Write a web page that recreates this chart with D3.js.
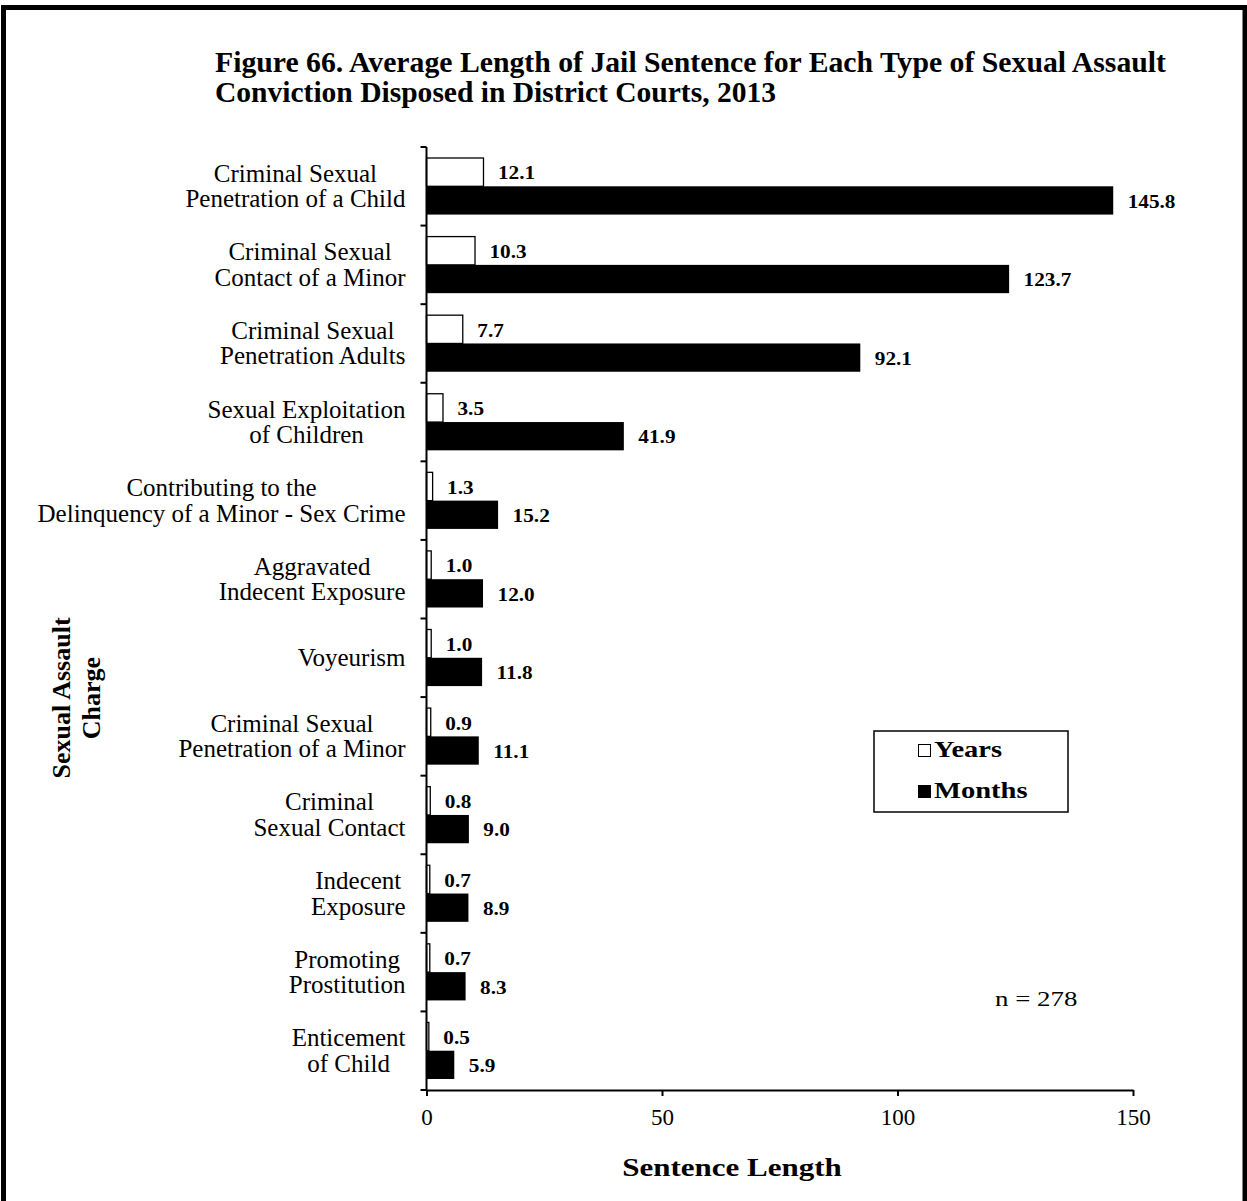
<!DOCTYPE html>
<html>
<head>
<meta charset="utf-8">
<script src="https://cdn.jsdelivr.net/npm/d3@7"></script>
<style>
  body { margin: 0; background: #fff; }
  svg text { font-family: "Liberation Serif", "Times New Roman", serif; fill: #000; }
</style>
</head>
<body>
<svg id="chart" width="1247" height="1201"></svg>
<script>
const categories = [
  ["Criminal Sexual", "Penetration of a Child"],
  ["Criminal Sexual", "Contact of a Minor"],
  ["Criminal Sexual", "Penetration Adults"],
  ["Sexual Exploitation", "of Children"],
  ["Contributing to the", "Delinquency of a Minor - Sex Crime"],
  ["Aggravated", "Indecent Exposure"],
  ["Voyeurism"],
  ["Criminal Sexual", "Penetration of a Minor"],
  ["Criminal", "Sexual Contact"],
  ["Indecent", "Exposure"],
  ["Promoting", "Prostitution"],
  ["Enticement", "of Child"]
];
const years  = [12.1, 10.3, 7.7, 3.5, 1.3, 1.0, 1.0, 0.9, 0.8, 0.7, 0.7, 0.5];
const months = [145.8, 123.7, 92.1, 41.9, 15.2, 12.0, 11.8, 11.1, 9.0, 8.9, 8.3, 5.9];
const seriesNames = ["Years", "Months"];
const xTicks = [0, 50, 100, 150];
const titleLines = [
  "Figure 66.  Average Length of Jail Sentence for Each Type of Sexual Assault",
  "Conviction Disposed in District Courts, 2013"
];

const svg = d3.select("#chart");

// stretch a text horizontally by a factor (keeps it as real text)
function stretch(sel, f) {
  sel.each(function () {
    const w = this.getComputedTextLength();
    d3.select(this).attr("textLength", w * f).attr("lengthAdjust", "spacingAndGlyphs");
  });
  return sel;
}

// outer frame
svg.append("rect")
  .attr("x", 3.5).attr("y", 7.5).attr("width", 1241.5).attr("height", 1210)
  .attr("fill", "none").attr("stroke", "#000").attr("stroke-width", 5);

// title
const titleW = [951, 561];
svg.selectAll("text.title").data(titleLines).enter().append("text")
  .attr("class", "title")
  .attr("x", 215).attr("y", (d, i) => 72 + i * 30)
  .attr("font-size", "30px").attr("font-weight", "bold")
  .attr("textLength", (d, i) => titleW[i]).attr("lengthAdjust", "spacingAndGlyphs")
  .text(d => d);

const x = d3.scaleLinear().domain([0, 150]).range([426.5, 1133]);
const idx = d3.range(categories.length);
const y = d3.scaleBand().domain(idx).range([147, 1090]).paddingInner(0.28).paddingOuter(0.14);
const ySub = d3.scaleBand().domain(seriesNames).range([0, y.bandwidth()]);

const rows = idx.map(i => ({ i, Years: years[i], Months: months[i] }));

// bars
const g = svg.append("g");
const grp = g.selectAll("g.row").data(rows).enter().append("g")
  .attr("transform", d => `translate(0,${y(d.i)})`);

grp.append("rect")
  .attr("x", x(0)).attr("y", ySub("Years"))
  .attr("width", d => x(d.Years) - x(0)).attr("height", ySub.bandwidth())
  .attr("fill", "#fff").attr("stroke", "#000").attr("stroke-width", 1.3);
grp.append("rect")
  .attr("x", x(0)).attr("y", ySub("Months"))
  .attr("width", d => x(d.Months) - x(0)).attr("height", ySub.bandwidth())
  .attr("fill", "#000");

stretch(grp.append("text")
  .attr("x", d => x(d.Years) + 14.5)
  .attr("y", ySub("Years") + ySub.bandwidth() / 2 + 1)
  .attr("dy", "0.35em")
  .attr("font-size", "18px").attr("font-weight", "bold")
  .text(d => d.Years.toFixed(1)), 1.18);
stretch(grp.append("text")
  .attr("x", d => x(d.Months) + 14.5)
  .attr("y", ySub("Months") + ySub.bandwidth() / 2 + 1)
  .attr("dy", "0.35em")
  .attr("font-size", "18px").attr("font-weight", "bold")
  .text(d => d.Months.toFixed(1)), 1.18);

// y axis line and ticks between categories
const step = y.step();
const yTop = 147, yBot = 1090;
svg.append("line").attr("x1", x(0)).attr("x2", x(0)).attr("y1", yTop).attr("y2", yBot)
  .attr("stroke", "#000").attr("stroke-width", 2);
svg.selectAll("line.ytick").data(d3.range(categories.length + 1)).enter().append("line")
  .attr("x1", x(0) - 6).attr("x2", x(0))
  .attr("y1", d => yTop + d * step).attr("y2", d => yTop + d * step)
  .attr("stroke", "#000").attr("stroke-width", 2);

// x axis
const xAxis = d3.axisBottom(x).tickValues(xTicks).tickSize(6).tickSizeOuter(0).tickFormat(d3.format("d"));
const xa = svg.append("g").attr("transform", `translate(0,${yBot})`).call(xAxis);
xa.select(".domain").attr("stroke", "#000").attr("stroke-width", 2);
xa.selectAll(".tick line").attr("stroke", "#000").attr("stroke-width", 2);
xa.selectAll(".tick text").attr("font-size", "23px")
  .attr("font-family", "Liberation Serif, serif").attr("y", 35).attr("dy", "0");

// category labels (centered block, right edge ~406)
categories.forEach((lines, i) => {
  const cy = y(i) + y.bandwidth() / 2;
  const n = lines.length;
  const tg = svg.append("g");
  const ts = lines.map((ln, k) => tg.append("text")
    .attr("y", cy + (k - (n - 1) / 2) * 25.5)
    .attr("dy", "0.33em")
    .attr("font-size", "25px")
    .attr("text-anchor", "middle")
    .text(ln));
  const maxW = d3.max(ts, t => t.node().getComputedTextLength());
  ts.forEach(t => t.attr("x", 405.5 - maxW / 2));
});

// y axis title
const yt = svg.append("text").attr("transform", "translate(0,698) rotate(-90)")
  .attr("text-anchor", "middle").attr("font-size", "26px").attr("font-weight", "bold");
yt.append("tspan").attr("x", 0).attr("y", 70).text("Sexual Assault");
yt.append("tspan").attr("x", 0).attr("y", 100).text("Charge");

// x axis title
stretch(svg.append("text").attr("x", 732).attr("y", 1176).attr("text-anchor", "middle")
  .attr("font-size", "25px").attr("font-weight", "bold").text("Sentence Length"), 1.24);

// legend
const lg = svg.append("g");
lg.append("rect").attr("x", 874).attr("y", 731).attr("width", 194).attr("height", 81)
  .attr("fill", "#fff").attr("stroke", "#000").attr("stroke-width", 1.5);
seriesNames.forEach((s, k) => {
  const by = 757 + k * 41;
  lg.append("rect").attr("x", 918.5).attr("y", by - 12.5).attr("width", 12).attr("height", 12)
    .attr("fill", s === "Years" ? "#fff" : "#000").attr("stroke", "#000").attr("stroke-width", 1);
  stretch(lg.append("text").attr("x", 934).attr("y", by).attr("font-size", "23px")
    .attr("font-weight", "bold").text(s), 1.24);
});

// n
stretch(svg.append("text").attr("x", 995).attr("y", 1006).attr("font-size", "21px").text("n = 278"), 1.28);
</script>
</body>
</html>
